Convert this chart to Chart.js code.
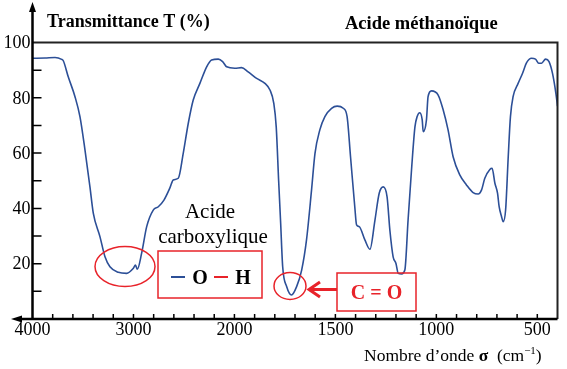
<!DOCTYPE html>
<html>
<head>
<meta charset="utf-8">
<script src="https://cdn.jsdelivr.net/npm/chart.js@4.4.0/dist/chart.umd.min.js"></script>
<style>
  html, body { margin: 0; padding: 0; background: #fff; }
  #wrap { width: 567px; height: 369px; }
</style>
</head>
<body>
<div id="wrap"><canvas id="irChart" width="567" height="369"></canvas></div>
<script>
// IR spectrum - acide méthanoïque
const waveNumbers = [4000, 3876, 3777, 3711, 3695, 3646, 3579, 3530, 3480, 3431, 3398, 3332, 3282, 3233, 3150, 3067, 3002, 2980, 2962, 2919,
  2869, 2804, 2754, 2698, 2639, 2606, 2556, 2507, 2457, 2408, 2342, 2275, 2226, 2160, 2117, 2077, 1998, 1965, 1932, 1890,
  1849, 1824, 1805, 1793, 1781, 1771, 1761, 1741, 1717, 1692, 1667, 1643, 1618, 1601, 1577, 1552, 1519, 1491, 1461, 1442,
  1425, 1404, 1395, 1382, 1354, 1329, 1304, 1283, 1263, 1244, 1230, 1214, 1200, 1189, 1172, 1156, 1140, 1123, 1106, 1095,
  1082, 1070, 1065, 1049, 1041, 1024, 991, 966, 942, 917, 884, 851, 818, 793, 776, 760, 735, 724, 710, 697,
  689, 677, 669, 657, 644, 633, 620, 595, 573, 553, 529, 509, 493, 479, 459, 442, 425, 408, 400];
const transmittance = [94.3, 94.4, 94.6, 93.9, 93.4, 87.6, 80.4, 73.2, 61.1, 47.8, 38.3, 29.8, 22.5, 18.9, 16.9, 16.5, 18.3, 19.5, 18.0, 23.8,
  33.4, 39.4, 40.6, 43.0, 47.4, 50.3, 50.9, 59.9, 70.8, 79.2, 85.2, 91.2, 93.7, 94.0, 93.1, 91.2, 90.7, 90.9, 89.4, 87.0,
  85.2, 82.8, 78.0, 69.5, 50.0, 34.6, 18.9, 11.7, 8.7, 11.7, 17.7, 28.6, 46.7, 59.9, 68.4, 73.2, 76.2, 77.0, 76.2, 73.2,
  58.7, 40.6, 34.0, 33.4, 28.6, 25.2, 35.8, 45.5, 47.8, 44.2, 32.0, 22.5, 20.1, 16.5, 16.3, 17.7, 35.8, 53.9, 69.5, 73.2,
  74.6, 72.0, 67.7, 72.0, 80.4, 82.5, 81.0, 75.6, 68.4, 58.7, 52.1, 48.5, 45.7, 45.2, 46.7, 50.9, 54.1, 54.5, 49.1, 45.5,
  40.6, 37.0, 35.2, 39.4, 58.7, 73.2, 80.4, 85.2, 88.9, 92.7, 94.3, 94.0, 92.5, 92.5, 94.0, 93.1, 88.9, 81.6, 77.0];

const xTickLabels = [4000, 3000, 2000, 1500, 1000, 500];
const yTickLabels = [20, 40, 60, 80, 100];

// scale changes at 2000 cm-1 : 1000 cm-1 per division above, 500 below
function toAxis(w) {
  return w >= 2000 ? (4000 - w) / 1000 : 2 + (2000 - w) / 500;
}

const minorTicks = [];
for (let w = 3800; w >= 2000; w -= 200) minorTicks.push(w);
for (let w = 1900; w >= 500; w -= 100) minorTicks.push(w);

const SERIF = '"Liberation Serif", "Times New Roman", serif';
const RED = '#e8232a';
const BLUE = '#2c4f97';

const spectrumDecor = {
  id: 'spectrumDecor',
  afterDraw(chart) {
    const { ctx, chartArea: a, scales: { x, y } } = chart;
    ctx.save();

    // frame (top + right)
    ctx.strokeStyle = '#222';
    ctx.lineWidth = 2;
    ctx.beginPath();
    ctx.moveTo(a.left, a.top);
    ctx.lineTo(a.right, a.top);
    ctx.lineTo(a.right, a.bottom);
    ctx.stroke();

    // axes with arrows
    ctx.strokeStyle = '#000';
    ctx.fillStyle = '#000';
    ctx.lineWidth = 2.5;
    ctx.beginPath();
    ctx.moveTo(a.left, a.bottom);
    ctx.lineTo(a.left, 10);
    ctx.moveTo(a.right, a.bottom);
    ctx.lineTo(18, a.bottom);
    ctx.stroke();
    ctx.beginPath();
    ctx.moveTo(a.left, 2); ctx.lineTo(a.left - 3.5, 12); ctx.lineTo(a.left + 3.5, 12);
    ctx.closePath(); ctx.fill();
    ctx.beginPath();
    ctx.moveTo(11, a.bottom); ctx.lineTo(22, a.bottom - 3.5); ctx.lineTo(22, a.bottom + 3.5);
    ctx.closePath(); ctx.fill();

    // inner ticks
    ctx.lineWidth = 1.5;
    ctx.beginPath();
    minorTicks.forEach(w => {
      const px = x.getPixelForValue(toAxis(w));
      ctx.moveTo(px, a.bottom);
      ctx.lineTo(px, a.bottom - 5);
    });
    for (let t = 10; t < 100; t += 10) {
      const py = y.getPixelForValue(t);
      ctx.moveTo(a.left, py);
      ctx.lineTo(a.left + 9, py);
    }
    ctx.stroke();

    // tick labels
    ctx.font = '18px ' + SERIF;
    ctx.textAlign = 'center';
    ctx.textBaseline = 'top';
    xTickLabels.forEach(w => {
      ctx.fillText(String(w), x.getPixelForValue(toAxis(w)), 321);
    });
    ctx.textAlign = 'right';
    ctx.textBaseline = 'middle';
    yTickLabels.forEach(t => {
      ctx.fillText(String(t), a.left - 2, y.getPixelForValue(t) + 1);
    });

    // titles
    ctx.textAlign = 'left';
    ctx.textBaseline = 'alphabetic';
    ctx.font = 'bold 18px ' + SERIF;
    ctx.fillText('Transmittance T (%)', 47, 27);
    ctx.font = 'bold 18.5px ' + SERIF;
    ctx.fillText('Acide méthanoïque', 345, 29);

    // x axis title
    ctx.font = '17.5px ' + SERIF;
    let tx = 364;
    const by = 361;
    ctx.fillText('Nombre d’onde ', tx, by);
    tx += ctx.measureText('Nombre d’onde ').width;
    ctx.font = 'bold 17.5px ' + SERIF;
    ctx.fillText('σ', tx, by);
    tx += ctx.measureText('σ').width;
    ctx.font = '17.5px ' + SERIF;
    ctx.fillText('  (cm', tx, by);
    tx += ctx.measureText('  (cm').width;
    ctx.font = '11px ' + SERIF;
    ctx.fillText('−1', tx, by - 7);
    tx += ctx.measureText('−1').width;
    ctx.font = '17.5px ' + SERIF;
    ctx.fillText(')', tx, by);

    // Acide carboxylique label
    ctx.font = '21px ' + SERIF;
    ctx.textAlign = 'center';
    ctx.fillText('Acide', 210, 218);
    ctx.fillText('carboxylique', 213, 243);

    // red annotations
    ctx.strokeStyle = RED;
    ctx.lineWidth = 1.5;
    ctx.beginPath();
    ctx.ellipse(125, 266.5, 30, 20, 0, 0, Math.PI * 2);
    ctx.stroke();
    ctx.beginPath();
    ctx.ellipse(290, 286, 16, 13.5, 0, 0, Math.PI * 2);
    ctx.stroke();
    ctx.strokeRect(158, 251, 104, 47);
    ctx.strokeRect(337, 273, 79, 38);

    // O-H box content
    ctx.lineWidth = 2;
    ctx.strokeStyle = BLUE;
    ctx.beginPath(); ctx.moveTo(171, 277); ctx.lineTo(185, 277); ctx.stroke();
    ctx.strokeStyle = RED;
    ctx.beginPath(); ctx.moveTo(214, 277); ctx.lineTo(228, 277); ctx.stroke();
    ctx.fillStyle = '#000';
    ctx.font = 'bold 20px ' + SERIF;
    ctx.fillText('O', 200, 284);
    ctx.fillText('H', 243, 284);

    // C=O box + arrow
    ctx.fillStyle = RED;
    ctx.fillText('C = O', 376.5, 299);
    ctx.lineWidth = 3;
    ctx.beginPath();
    ctx.moveTo(337, 289.5); ctx.lineTo(309, 289.5);
    ctx.moveTo(320, 282); ctx.lineTo(309, 289.5); ctx.lineTo(320, 297);
    ctx.stroke();

    ctx.restore();
  }
};

new Chart(document.getElementById('irChart').getContext('2d'), {
  type: 'line',
  data: {
    datasets: [{
      label: 'T (%)',
      data: waveNumbers.map((w, i) => ({ x: toAxis(w), y: transmittance[i] })),
      borderColor: BLUE,
      borderWidth: 1.6,
      pointRadius: 0,
      fill: false,
      cubicInterpolationMode: 'monotone'
    }]
  },
  options: {
    responsive: false,
    animation: false,
    layout: { padding: { left: 32.5, right: 9.5, top: 42.5, bottom: 50 } },
    plugins: { legend: { display: false }, tooltip: { enabled: false } },
    scales: {
      x: { type: 'linear', min: 0, max: toAxis(400), display: false },
      y: { min: 0, max: 100, display: false }
    }
  },
  plugins: [spectrumDecor]
});
</script>
</body>
</html>
